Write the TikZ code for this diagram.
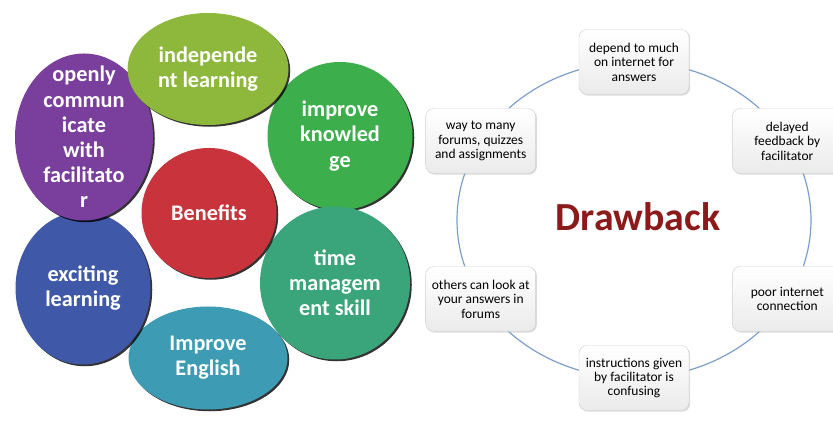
\documentclass[tikz,border=0pt]{standalone}
\usepackage{fontspec}
\setmainfont{Carlito}
\usetikzlibrary{shapes.geometric,shadows,calc}

\definecolor{cpurple}{HTML}{7A3E9D}
\definecolor{cblue}{HTML}{3F58A8}
\definecolor{cteal}{HTML}{3D9BB4}
\definecolor{ctime}{HTML}{3AA57A}
\definecolor{cknow}{HTML}{3DAE4C}
\definecolor{cindep}{HTML}{8DB83C}
\definecolor{cred}{HTML}{C9333B}
\definecolor{cdark}{HTML}{8B1B1B}
\definecolor{cring}{HTML}{7A9CCB}

\begin{document}
\begin{tikzpicture}[x=0.3mm,y=0.3mm,
    benefit node/.style={ellipse,inner sep=0pt,
      drop shadow={shadow xshift=1.5pt,shadow yshift=-1.5pt,opacity=0.8,fill=black}},
    benefit text/.style={align=center,text=white,inner sep=0pt,
      font=\fontsize{19}{21.5}\selectfont\bfseries},
    drawback node/.style={rectangle,rounded corners=2.4mm,draw=black!18,
      top color=white,bottom color=black!8,minimum width=33mm,minimum height=19.5mm,
      inner sep=1pt,align=center,text=black,font=\fontsize{11.5}{12.3}\selectfont,
      drop shadow={shadow xshift=1pt,shadow yshift=-1pt,opacity=0.35,fill=black!40}}]
  \useasboundingbox (0,0) rectangle (833,421);

  % benefits
  \node[benefit node,fill=cknow,minimum width=43.5mm,minimum height=44.4mm,
    label={[benefit text]center:{improve\\knowled\\ge}}] (know) at (340,285) {};
  \node[benefit node,fill=ctime,minimum width=45mm,minimum height=45.9mm,
    label={[benefit text]center:{time\\managem\\ent skill}}] (time) at (335,138) {};
  \node[benefit node,fill=cteal,minimum width=47.7mm,minimum height=30.9mm,
    label={[benefit text]center:{Improve\\English}}] (english) at (208,63) {};
  \node[benefit node,fill=cblue,minimum width=40.5mm,minimum height=45.9mm,
    label={[benefit text]center:{exciting\\learning}}] (exciting) at (83,133) {};
  \node[benefit node,fill=cpurple,minimum width=41.4mm,minimum height=50.1mm,
    label={[benefit text]center:{openly\\commun\\icate\\with\\facilitato\\r}}] (openly) at (84,284) {};
  \node[benefit node,fill=cindep,minimum width=48.3mm,minimum height=33.6mm,
    label={[benefit text]center:{independe\\nt learning}}] (indep) at (208,352) {};
  \node[benefit node,fill=cred,minimum width=40.5mm,minimum height=39mm,
    label={[benefit text]center:{Benefits}}] (benefits) at (209,208) {};

  % drawbacks
  \coordinate (dcenter) at (634,201);
  \draw[cring,line width=1pt] (dcenter) ellipse [x radius=53.1mm,y radius=47.4mm];
  \node[text=cdark,font=\fontsize{34}{40}\selectfont\bfseries] (drawback) at (638,204) {Drawback};
  \node[drawback node] (d1) at ($(dcenter)+(90:53.1mm and 47.4mm)$) {depend to much\\on internet for\\answers};
  \node[drawback node] (d2) at ($(dcenter)+(30:53.1mm and 47.4mm)$) {delayed\\feedback by\\facilitator};
  \node[drawback node] (d3) at ($(dcenter)+(-30:53.1mm and 47.4mm)$) {poor internet\\connection};
  \node[drawback node] (d4) at ($(dcenter)+(-90:53.1mm and 47.4mm)$) {instructions given\\by facilitator is\\confusing};
  \node[drawback node] (d5) at ($(dcenter)+(210:53.1mm and 47.4mm)$) {others can look at\\your answers in\\forums};
  \node[drawback node] (d6) at ($(dcenter)+(150:53.1mm and 47.4mm)$) {way to many\\forums, quizzes\\and assignments};
\end{tikzpicture}
\end{document}
